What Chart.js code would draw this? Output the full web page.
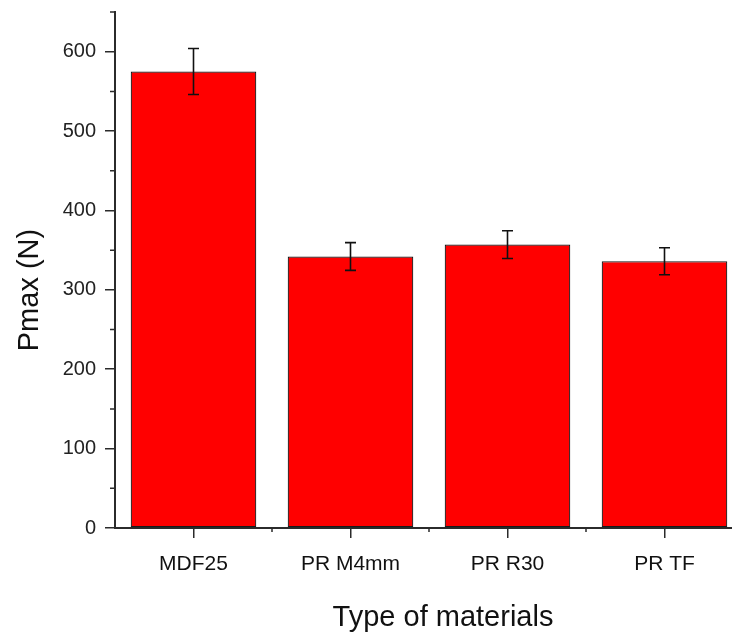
<!DOCTYPE html>
<html>
<head>
<meta charset="utf-8">
<script src="https://cdn.jsdelivr.net/npm/chart.js@4/dist/chart.umd.min.js"></script>
<style>
    html, body { margin: 0; padding: 0; background: #fff; overflow: hidden; }
    #wrap { width: 732px; height: 633px; overflow: hidden; }
</style>
</head>
<body>
<div id="wrap"><canvas id="pmaxChart" width="760" height="633"></canvas></div>
<script>
// data
const materials = ['MDF25', 'PR M4mm', 'PR R30', 'PR TF'];
const pmax = [575, 342, 357, 336];
const pmaxErr = [29, 17.5, 17.5, 17];
const yTicks = [0, 100, 200, 300, 400, 500, 600];
const yMinorTicks = [50, 150, 250, 350, 450, 550, 650];

const FONT = "'Liberation Sans', Arial, sans-serif";
const AXIS = '#2b2b2b';

// error bars, minor ticks and the two axis titles
const extras = {
    id: 'extras',
    afterDatasetsDraw(chart) {
        const ctx = chart.ctx;
        const y = chart.scales.y;
        const meta = chart.getDatasetMeta(0);
        ctx.save();
        ctx.strokeStyle = '#111';
        ctx.lineWidth = 1.6;
        meta.data.forEach((bar, i) => {
            const top = y.getPixelForValue(pmax[i] + pmaxErr[i]);
            const bot = y.getPixelForValue(pmax[i] - pmaxErr[i]);
            ctx.beginPath();
            ctx.moveTo(bar.x, top); ctx.lineTo(bar.x, bot);
            ctx.moveTo(bar.x - 5.5, top); ctx.lineTo(bar.x + 5.5, top);
            ctx.moveTo(bar.x - 5.5, bot); ctx.lineTo(bar.x + 5.5, bot);
            ctx.stroke();
        });
        ctx.restore();
    },
    afterDraw(chart) {
        const ctx = chart.ctx;
        const area = chart.chartArea;
        const x = chart.scales.x;
        const y = chart.scales.y;
        ctx.save();
        ctx.strokeStyle = AXIS;
        ctx.lineWidth = 1.5;
        ctx.beginPath();
        yMinorTicks.forEach(v => {
            const py = y.getPixelForValue(v);
            ctx.moveTo(area.left - 5, py); ctx.lineTo(area.left, py);
        });
        for (let i = 0; i < materials.length; i++) {
            const px = (x.getPixelForValue(i) + x.getPixelForValue(i + 1)) / 2;
            ctx.moveTo(px, area.bottom); ctx.lineTo(px, area.bottom + 4);
        }
        ctx.stroke();

        ctx.fillStyle = '#111';
        ctx.font = '29px ' + FONT;
        ctx.textAlign = 'center';
        ctx.textBaseline = 'alphabetic';
        ctx.fillText('Type of materials', 443, 626);
        ctx.translate(38, 290);
        ctx.rotate(-Math.PI / 2);
        ctx.fillText('Pmax (N)', 0, 0);
        ctx.restore();
    }
};

function createChart(elementId) {
    const ctx = document.getElementById(elementId).getContext('2d');
    return new Chart(ctx, {
        type: 'bar',
        data: {
            labels: materials,
            datasets: [{
                data: pmax,
                backgroundColor: '#ff0000',
                borderColor: '#1a1a1a',
                borderWidth: 1.2,
                borderSkipped: false,
                barPercentage: 0.8,
                categoryPercentage: 1.0
            }]
        },
        options: {
            responsive: false,
            animation: false,
            layout: { padding: { top: 12, left: 0, right: 17, bottom: 0 } },
            plugins: {
                legend: { display: false },
                tooltip: { enabled: false }
            },
            scales: {
                x: {
                    offset: true,
                    afterFit: s => { s.height = 105; s.paddingLeft = 0; s.paddingRight = 0; },
                    grid: { offset: false, drawOnChartArea: false, tickLength: 10, color: AXIS, lineWidth: 1.5 },
                    border: { display: true, color: AXIS, width: 2 },
                    ticks: { color: '#111', padding: 14, font: { family: FONT, size: 21 } }
                },
                y: {
                    min: 0,
                    max: 650,
                    afterFit: s => { s.width = 115; s.paddingTop = 0; s.paddingBottom = 0; },
                    afterBuildTicks: s => { s.ticks = yTicks.map(v => ({ value: v })); },
                    grid: { drawOnChartArea: false, tickLength: 10, color: AXIS, lineWidth: 1.5 },
                    border: { display: true, color: AXIS, width: 2 },
                    ticks: { color: '#222', padding: 9, font: { family: FONT, size: 20 } }
                }
            }
        },
        plugins: [extras]
    });
}

createChart('pmaxChart');
</script>
</body>
</html>
